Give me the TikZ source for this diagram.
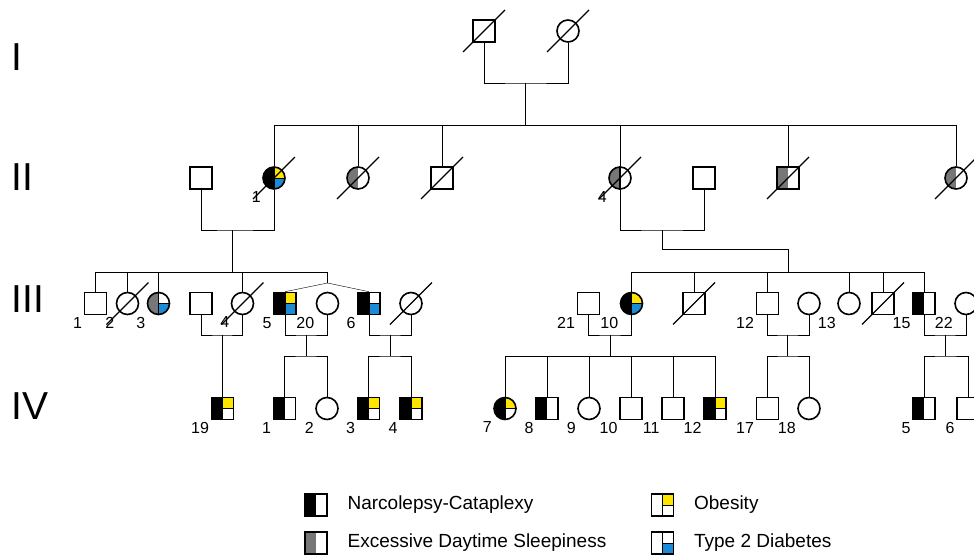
\documentclass[tikz,border=0pt]{standalone}
\usepackage{fontspec}
\setmainfont{Liberation Sans}
\usetikzlibrary{calc,positioning,backgrounds}
\definecolor{obyellow}{HTML}{FFE400}
\definecolor{tdblue}{HTML}{1B8BD6}
\definecolor{edsgray}{HTML}{777777}
\tikzset{
  male/.style={draw,rectangle,minimum size=22pt,inner sep=0pt,fill=white},
  female/.style={draw,circle,minimum size=22pt,inner sep=0pt,fill=white},
  num/.style={font=\fontsize{16}{18}\selectfont,inner sep=1pt},
  gen/.style={font=\fontsize{39}{44}\selectfont,anchor=west,inner sep=0pt},
  legtext/.style={font=\fontsize{19}{22}\selectfont,inner sep=0pt},
  lab/.style={label={[num]south west:#1}},
  clab/.style={label={[num,xshift=-3.2pt,yshift=-3.2pt]south west:#1}},
  half/.style={path picture={
      \fill[#1] (path picture bounding box.south west) rectangle (path picture bounding box.north);}},
  quad/.style n args={3}{path picture={
      \fill[#1] (path picture bounding box.south west) rectangle (path picture bounding box.north);
      \fill[#2] (path picture bounding box.north) rectangle (path picture bounding box.east);
      \fill[#3] (path picture bounding box.east) rectangle (path picture bounding box.south);
      \draw[line width=1pt] (path picture bounding box.north) -- (path picture bounding box.south)
           (path picture bounding box.center) -- (path picture bounding box.east);}},
  slash/.style={line width=1.3pt}
}
\begin{document}
\begin{tikzpicture}[x=1pt,y=-1pt,line width=1.6pt]
      \path[use as bounding box] (0,0) rectangle (974,555);
      \clip (0,0) rectangle (974,555);

      \node[gen] (genI)   at (11,57.5)  {I};
      \node[gen] (genII)  at (11,177.5) {II};
      \node[gen] (genIII) at (11,299)   {III};
      \node[gen] (genIV)  at (11,406)   {IV};

      % generation I
      \node[male]   (i1) at (484,31) {};
      \node[female] (i2) at (568,31) {};

      % generation II
      \node[male]                                   (ii0)  at (201,178) {};
      \node[female,quad={black}{obyellow}{tdblue},clab=1] (ii1)  at (274,178) {};
      \node[female,half=edsgray]                    (ii2)  at (358,178) {};
      \node[male]                                   (ii3)  at (442,178) {};
      \node[female,half=edsgray,clab=4]             (ii4)  at (620,178) {};
      \node[male]                                   (ii4s) at (704,178) {};
      \node[male,half=edsgray]                      (ii5)  at (788,178) {};
      \node[female,half=edsgray]                    (ii6)  at (956,178) {};

      % generation III
      \node[male,lab=1]                             (iii1)  at (95.5,303.5) {};
      \node[female,clab=2]                          (iii2)  at (127.5,303.5) {};
      \node[female,quad={edsgray}{white}{tdblue},clab=3] (iii3) at (158.5,303.5) {};
      \node[male]                                   (iii4s) at (201,303.5) {};
      \node[female,clab=4]                          (iii4)  at (242.5,303.5) {};
      \node[male,quad={black}{obyellow}{tdblue},lab=5] (iii5) at (285,303.5) {};
      \node[female,clab=20]                         (iii20) at (327.5,303.5) {};
      \node[male,quad={black}{white}{tdblue},lab=6] (iii6)  at (369,303.5) {};
      \node[female]                                 (iii6s) at (411,303.5) {};
      \node[male,lab=21]                            (iii21) at (588.5,303.5) {};
      \node[female,quad={black}{obyellow}{tdblue},clab=10] (iii10) at (631.5,303.5) {};
      \node[male]                                   (iiix1) at (694,303.5) {};
      \node[male,lab=12]                            (iii12) at (767.5,303.5) {};
      \node[female]                                 (iii12s) at (809,303.5) {};
      \node[female,clab=13]                         (iii13) at (849,303.5) {};
      \node[male]                                   (iiix2) at (883,303.5) {};
      \node[male,half=black,lab=15]                 (iii15) at (924,303.5) {};
      \node[female,clab=22]                         (iii22) at (966,303.5) {};

      % generation IV
      \node[male,quad={black}{obyellow}{white},lab=19] (iv19) at (222.5,408.5) {};
      \node[male,half=black,lab=1]                  (iv1)  at (284.5,408.5) {};
      \node[female,clab=2]                          (iv2)  at (327,408.5) {};
      \node[male,quad={black}{obyellow}{white},lab=3]  (iv3)  at (368.5,408.5) {};
      \node[male,quad={black}{obyellow}{white},lab=4]  (iv4)  at (411,408.5) {};
      \node[female,quad={black}{obyellow}{white},clab=7] (iv7) at (505,408.5) {};
      \node[male,half=black,lab=8]                  (iv8)  at (547,408.5) {};
      \node[female,clab=9]                          (iv9)  at (589,408.5) {};
      \node[male,lab=10]                            (iv10) at (631,408.5) {};
      \node[male,lab=11]                            (iv11) at (673,408.5) {};
      \node[male,quad={black}{obyellow}{white},lab=12] (iv12) at (715,408.5) {};
      \node[male,lab=17]                            (iv17) at (767.5,408.5) {};
      \node[female,clab=18]                         (iv18) at (809,408.5) {};
      \node[male,half=black,lab=5]                  (iv5)  at (924,408.5) {};
      \node[male,lab=6]                             (iv6)  at (968,408.5) {};

      \coordinate (mI)    at (525,83);
      \coordinate (sII)   at (525,125);
      \coordinate (mII1)  at (232,230);
      \coordinate (sIII1) at (232,272);
      \coordinate (tw)    at (327.5,283);
      \coordinate (mII2)  at (662,230);
      \coordinate (kII2)  at (788,249);
      \coordinate (sIII2) at (788,272);
      \coordinate (mIII4)  at (222.5,335);
      \coordinate (mIII5)  at (306,335);
      \coordinate (sIV5)   at (306,356);
      \coordinate (mIII6)  at (390,335);
      \coordinate (sIV6)   at (390,356);
      \coordinate (mIII10) at (610,335);
      \coordinate (sIV10)  at (610,356);
      \coordinate (mIII12) at (787,335);
      \coordinate (sIV12)  at (787,356);
      \coordinate (mIII15) at (945,335);
      \coordinate (sIV15)  at (945,356);

      \begin{scope}[on background layer]
        \draw (i1) |- (mI) -| (i2);
        \draw (mI) -- (sII);
        \draw (ii1 |- sII) -- (ii6 |- sII);
        \foreach \p in {ii1,ii2,ii3,ii4,ii5,ii6} \draw (\p) -- (\p |- sII);

        \draw (ii0) |- (mII1) -| (ii1);
        \draw (mII1) -- (sIII1);
        \draw (iii1 |- sIII1) -- (tw |- sIII1) -- (tw);
        \foreach \p in {iii1,iii2,iii3,iii4} \draw (\p) -- (\p |- sIII1);
        \draw (tw) -- (iii5.north);
        \draw (tw) -- (iii6.north);

        \draw (ii4) |- (mII2) -| (ii4s);
        \draw (mII2) |- (kII2) -- (sIII2);
        \draw (iii10 |- sIII2) -- (iii15 |- sIII2);
        \foreach \p in {iii10,iiix1,iii12,iii13,iiix2,iii15} \draw (\p) -- (\p |- sIII2);

        \draw (iii4s) |- (mIII4) -| (iii4);
        \draw (mIII4) -- (iv19);
        \draw (iii5) |- (mIII5) -| (iii20);
        \draw (mIII5) -- (sIV5);
        \draw (iv1) |- (sIV5) -| (iv2);
        \draw (iii6) |- (mIII6) -| (iii6s);
        \draw (mIII6) -- (sIV6);
        \draw (iv3) |- (sIV6) -| (iv4);
        \draw (iii21) |- (mIII10) -| (iii10);
        \draw (mIII10) -- (sIV10);
        \draw (iv7 |- sIV10) -- (iv12 |- sIV10);
        \foreach \p in {iv7,iv8,iv9,iv10,iv11,iv12} \draw (\p) -- (\p |- sIV10);
        \draw (iii12) |- (mIII12) -| (iii12s);
        \draw (mIII12) -- (sIV12);
        \draw (iv17) |- (sIV12) -| (iv18);
        \draw (iii15) |- (mIII15) -| (iii22);
        \draw (mIII15) -- (sIV15);
        \draw (iv5) |- (sIV15) -| (iv6);
      \end{scope}

      \draw (ii4.north) -- (ii4.south);
      \foreach \p in {i1,i2,ii1,ii2,ii3,ii4,ii5,ii6,iii2,iii4,iii6s,iiix1,iiix2}
        \draw[slash] ($(\p)+(-21,21)$) -- ($(\p)+(21,-21)$);

      % legend
      \node[male,half=black]   (lnc)  at (316,505) {};
      \node[male,half=edsgray] (leds) at (316,543) {};
      \node[male,quad={white}{obyellow}{white}] (lob) at (662.5,505) {};
      \node[male,quad={white}{white}{tdblue}]   (ltd) at (662.5,543) {};
      \node[legtext,right=19pt of lnc]  (lnctext)  {Narcolepsy-Cataplexy};
      \node[legtext,right=19pt of leds] (ledstext) {Excessive Daytime Sleepiness};
      \node[legtext,right=19pt of lob]  (lobtext)  {Obesity};
      \node[legtext,right=19pt of ltd]  (ltdtext)  {Type 2 Diabetes};
\end{tikzpicture}
\end{document}
